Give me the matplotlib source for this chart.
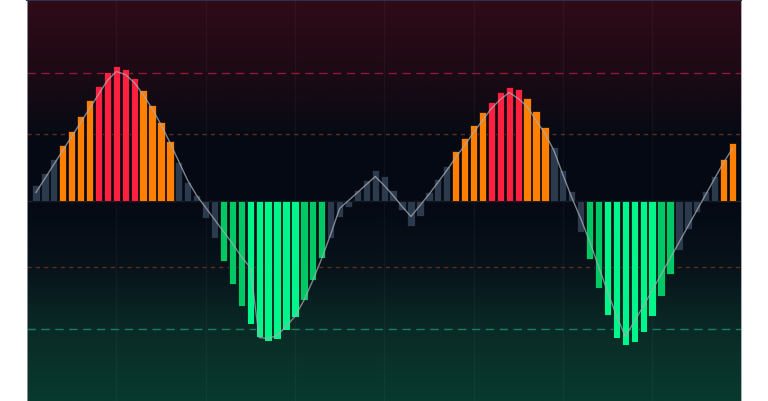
import numpy as np
import matplotlib
matplotlib.use('Agg')
import matplotlib.pyplot as plt
from matplotlib.colors import LinearSegmentedColormap

# histogram values (one bar per period)
hist = [16, 28, 42, 56, 70, 85, 101, 115, 129, 135,
        132, 123, 111, 96, 79, 60, 39, 19, 6, -17,
        -37, -60, -83, -105, -123, -136, -140, -138, -129, -116,
        -99, -79, -57, -37, -16, -6, 11, 21, 31, 25,
        11, -9, -25, -15, 9, 22, 35, 50, 63, 76,
        89, 99, 109, 114, 112, 103, 90, 74, 54, 31,
        10, -31, -58, -87, -114, -137, -144, -141, -131, -115,
        -95, -73, -49, -28, -11, 10, 25, 42, 58]

# state of each bar: n = neutral, b = bull, sb = strong bull, r = bear, sr = strong bear
state = (['n'] * 3 + ['b'] * 4 + ['sb'] * 5 + ['b'] * 4 + ['n'] * 5
         + ['r'] * 3 + ['sr'] * 6 + ['r'] * 3 + ['n'] * 14
         + ['b'] * 4 + ['sb'] * 4 + ['b'] * 3 + ['n'] * 4
         + ['r'] * 2 + ['sr'] * 6 + ['r'] * 2 + ['n'] * 5 + ['b'] * 2)

# signal line
signal = [8, 22, 36, 50, 64, 78, 92, 106, 120, 129,
          126, 118, 106, 92, 76, 58, 39, 20, 5, -7,
          -19, -31, -43, -56, -67, -137, -138, -135, -126, -116,
          -100, -80, -58, -34, -8, 0, 8, 16, 24, 15,
          5, -6, -16, -5, 6, 18, 30, 43, 55, 68,
          80, 92, 101, 108, 102, 94, 80, 67, 50, 26,
          3, -18, -41, -66, -91, -115, -136, -121, -106, -90,
          -74, -58, -42, -26, -10, 6, 22, 38, 52]

# levels
outer_level = 128
inner_level = 66.5

colors = {'n': '#2c3a4d', 'b': '#ff7f00', 'sb': '#ff1f3f',
          'r': '#00c865', 'sr': '#00f68a'}


def main():
    x = np.arange(len(hist))
    ymax = 200.5

    fig = plt.figure(figsize=(7.68, 4.02), dpi=100)
    fig.patch.set_facecolor('white')
    ax = fig.add_axes([27 / 768, 0, 714 / 768, 401 / 402])
    ax.set_xlim(-1.0, len(hist) - 0.05)
    ax.set_ylim(-ymax, ymax)

    # vertical gradient background
    bg = LinearSegmentedColormap.from_list('bg', [
        (0.00, '#083a2e'),
        (0.18, '#0a2a26'),
        (0.34, '#07121a'),
        (0.50, '#050913'),
        (0.66, '#060a15'),
        (0.82, '#1c0a14'),
        (1.00, '#300b18'),
    ])
    grad = np.linspace(0, 1, 256).reshape(-1, 1)
    ax.imshow(grad, cmap=bg, origin='lower', aspect='auto',
              extent=[-1.0, len(hist) - 0.05, -ymax, ymax], zorder=0)

    # faint vertical grid
    for gx in range(9, len(hist), 10):
        ax.axvline(gx, color='#ffffff', alpha=0.035, lw=1, zorder=1)

    # level lines
    ax.axhline(outer_level, color='#901836', lw=1, ls=(0, (6, 4)), zorder=1)
    ax.axhline(inner_level, color='#5e2e16', lw=1, ls=(0, (3, 3)), zorder=1)
    ax.axhline(-inner_level, color='#5e2e16', lw=1, ls=(0, (3, 3)), zorder=1)
    ax.axhline(-outer_level, color='#17805a', lw=1, ls=(0, (6, 4)), zorder=1)
    ax.axhline(0, color='#1a2433', lw=1, zorder=1)

    ax.bar(x, hist, width=0.82, color=[colors[s] for s in state],
           edgecolor='#060a12', linewidth=0.5, zorder=2)

    ax.plot(x, signal, color='#a7abb3', lw=1, alpha=0.75, zorder=3)

    ax.set_xticks([])
    ax.set_yticks([])
    for side in ['left', 'right']:
        ax.spines[side].set_color('#9a9ea6')
        ax.spines[side].set_linewidth(0.6)
    ax.spines['top'].set_color('#28344c')
    ax.spines['top'].set_linewidth(1.5)
    ax.spines['bottom'].set_visible(False)

    fig.savefig('out.png', dpi=100, facecolor='white')


if __name__ == '__main__':
    main()
